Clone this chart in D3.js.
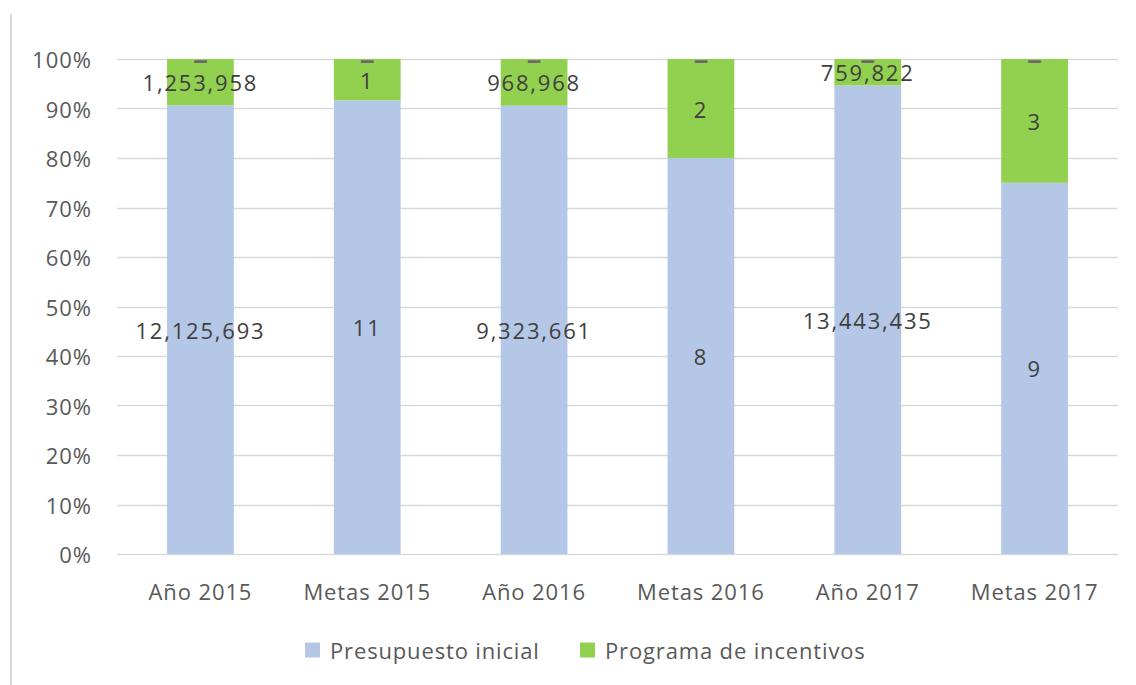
<!DOCTYPE html>
<html>
<head>
<meta charset="utf-8">
<script src="https://cdn.jsdelivr.net/npm/d3@7/dist/d3.min.js"></script>
<style>
  html, body { margin: 0; padding: 0; background: #ffffff; }
  svg text { font-family: "Open Sans", sans-serif; }
</style>
</head>
<body>
<svg id="chart" width="1136" height="685"></svg>
<script>
const categories = ["Año 2015", "Metas 2015", "Año 2016", "Metas 2016", "Año 2017", "Metas 2017"];
const presupuestoInicial = [12125693, 11, 9323661, 8, 13443435, 9];
const programaIncentivos = [1253958, 1, 968968, 2, 759822, 3];
const otros = [0, 0, 0, 0, 0, 0];
const seriesNames = ["Presupuesto inicial", "Programa de incentivos"];
const yTicks = [0, 0.1, 0.2, 0.3, 0.4, 0.5, 0.6, 0.7, 0.8, 0.9, 1.0];

const colors = ["#b4c7e7", "#92d050", "#a5a5a5"];
const svg = d3.select("#chart");

const margin = { left: 117, right: 18, top: 59, bottom: 131 };
const W = 1136, H = 685;

const x = d3.scaleBand().domain(categories).range([margin.left, W - margin.right]).paddingInner(0.6).paddingOuter(0.3);
const y = d3.scaleLinear().domain([0, 1]).range([H - margin.bottom, margin.top]);

// frame line at left
svg.append("line").attr("x1", 11).attr("x2", 11).attr("y1", 14).attr("y2", H)
  .attr("stroke", "#d9d9d9").attr("stroke-width", 2);

// gridlines
svg.append("g").selectAll("line").data(yTicks).join("line")
  .attr("x1", margin.left).attr("x2", W - margin.right)
  .attr("y1", d => Math.round(y(d)) + 0.5).attr("y2", d => Math.round(y(d)) + 0.5)
  .attr("stroke", "#d9d9d9").attr("stroke-width", 1.3);

// y tick labels
svg.append("g").selectAll("text").data(yTicks).join("text")
  .attr("x", 92).attr("y", d => y(d))
  .attr("text-anchor", "end").attr("dominant-baseline", "central")
  .attr("font-size", 22).attr("letter-spacing", 1).attr("fill", "#595959")
  .text(d => d3.format(".0%")(d));

// stack data
const rows = categories.map((c, i) => ({ cat: c, a: presupuestoInicial[i], b: programaIncentivos[i], c0: otros[i] }));
const keys = ["a", "b", "c0"];
const stack = d3.stack().keys(keys).offset(d3.stackOffsetExpand);
const stacked = stack(rows);

const fmt = d3.format(",");

svg.append("g").selectAll("g").data(stacked).join("g")
  .attr("fill", (d, i) => colors[i])
  .selectAll("rect").data(d => d).join("rect")
  .attr("x", d => x(d.data.cat))
  .attr("width", x.bandwidth())
  .attr("y", d => y(d[1]))
  .attr("height", d => y(d[0]) - y(d[1]));

// data labels
const labelG = svg.append("g");
stacked.forEach((s, si) => {
  labelG.selectAll(null).data(s).join("text")
    .attr("x", d => x(d.data.cat) + x.bandwidth() / 2)
    .attr("y", d => (y(d[0]) + y(d[1])) / 2 + (si === 2 ? -1 : 0))
    .attr("text-anchor", "middle").attr("dominant-baseline", "central")
    .attr("font-size", si === 2 ? 30 : 22).attr("letter-spacing", si === 2 ? 0 : 1.8)
    .attr("font-weight", si === 2 ? 600 : 400)
    .attr("fill", si === 2 ? "#6a6a6a" : "#404040")
    .text(d => {
      const v = d.data[s.key];
      return v === 0 ? "–" : fmt(v);
    });
});

// x axis labels
svg.append("g").selectAll("text").data(categories).join("text")
  .attr("x", d => x(d) + x.bandwidth() / 2)
  .attr("y", 591)
  .attr("text-anchor", "middle").attr("dominant-baseline", "central")
  .attr("font-size", 22).attr("letter-spacing", 0.9).attr("fill", "#595959")
  .text(d => d);

// legend
const legendX = [305, 580];
const lg = svg.append("g").selectAll("g").data(seriesNames).join("g")
  .attr("transform", (d, i) => `translate(${legendX[i]},650)`);
lg.append("rect").attr("x", 0).attr("y", -7.5).attr("width", 15).attr("height", 15)
  .attr("fill", (d, i) => colors[i]);
lg.append("text").attr("x", 25).attr("y", 0).attr("dominant-baseline", "central")
  .attr("font-size", 22).attr("letter-spacing", 0.85).attr("fill", "#595959")
  .text(d => d);
</script>
</body>
</html>
